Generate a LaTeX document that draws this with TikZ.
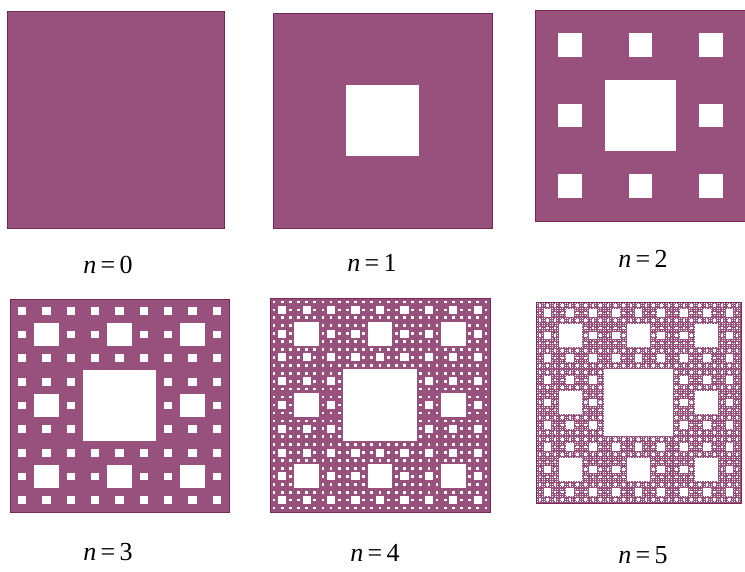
\documentclass[tikz,border=0pt]{standalone}
\usepackage{fontspec}
\setmainfont{Liberation Serif}
\definecolor{carpet}{RGB}{152,80,125}
\definecolor{carpetedge}{RGB}{118,42,85}
\tikzset{
  sheet/.style={fill=carpet,draw=carpetedge,line width=0.8pt},
  lbl/.style={font=\fontsize{26}{30}\selectfont,inner sep=0pt}
}
\newcommand\mycarpet[6]{% name, x, y, w, h, depth
  \node[sheet,minimum width=#4pt,minimum height=#5pt,anchor=north west,inner sep=0pt] (#1) at (#2,#3) {};
  \ifnum#6>0
  \foreach \k in {1,...,#6} {
    \pgfmathtruncatemacro\mm{3^(\k-1)-1}
    \pgfmathsetmacro\cx{#4/3^\k}
    \pgfmathsetmacro\cy{#5/3^\k}
    \foreach \a in {0,...,\mm} {
      \foreach \b in {0,...,\mm} {
        \fill[white] ({#2+(3*\a+1)*\cx},{#3+(3*\b+1)*\cy}) rectangle ++(\cx,\cy);
      }
    }
  }
  \fi
}
\begin{document}
\begin{tikzpicture}[x=1pt,y=-1pt]
\useasboundingbox (0,0) rectangle (745,571);
\mycarpet{c0}{7}{11}{217}{217}{0}
\mycarpet{c1}{273}{13}{219}{215}{1}
\mycarpet{c2}{535}{10}{211}{211}{2}
\mycarpet{c3}{10}{299}{219}{213}{3}
\mycarpet{c4}{270}{298}{220}{214}{4}
\mycarpet{c5}{536}{302}{205}{201}{5}
\node[lbl] (l0) at (108,265) {\textit{n}\,=\,0};
\node[lbl] (l1) at (372,263) {\textit{n}\,=\,1};
\node[lbl] (l2) at (643,259) {\textit{n}\,=\,2};
\node[lbl] (l3) at (108,552) {\textit{n}\,=\,3};
\node[lbl] (l4) at (375,553) {\textit{n}\,=\,4};
\node[lbl] (l5) at (643,555) {\textit{n}\,=\,5};
\end{tikzpicture}
\end{document}
